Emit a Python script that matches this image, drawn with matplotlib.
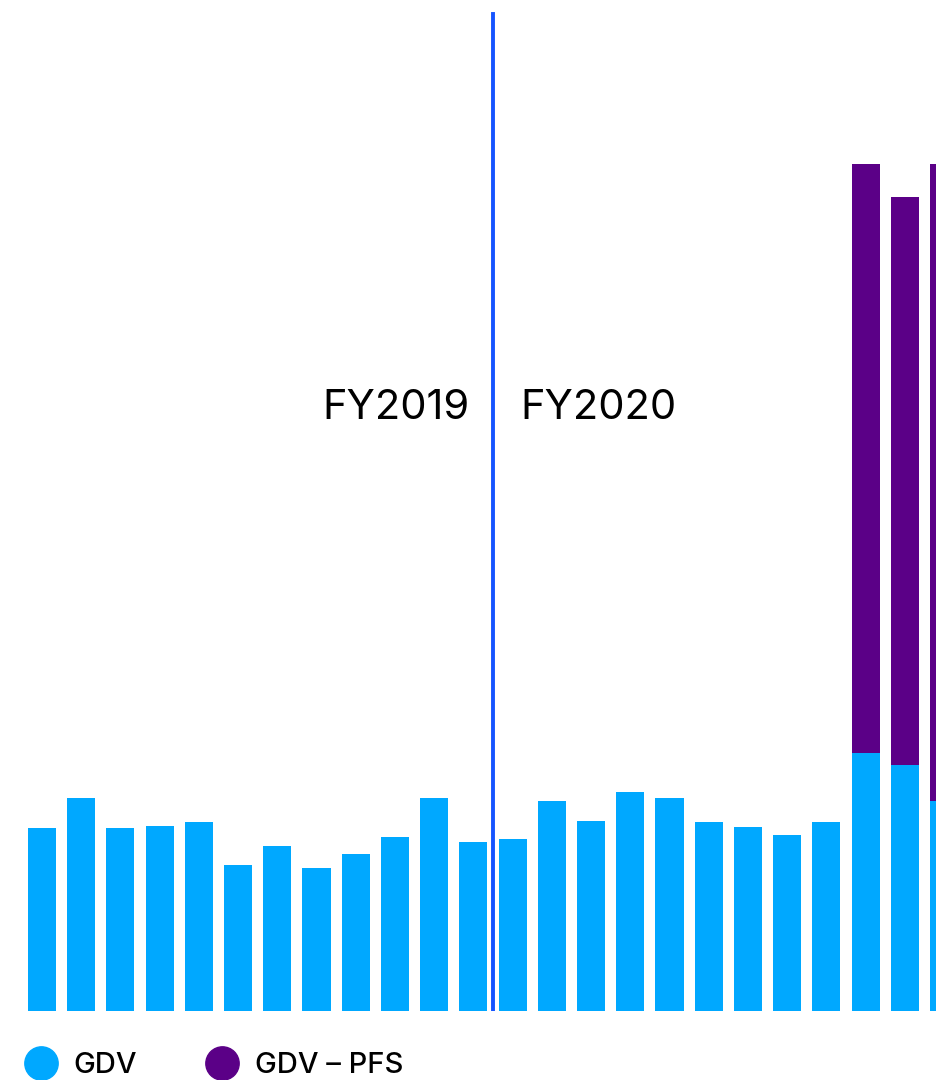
import matplotlib.pyplot as plt
from matplotlib.lines import Line2D
import numpy as np

# monthly values (arbitrary units)
months = list(range(24))
gdv = [183, 213, 183, 185, 189, 146, 165, 143, 157, 174, 213, 169,
       172, 210, 190, 219, 213, 189, 184, 176, 189, 258, 246, 210]
gdv_pfs = [0, 0, 0, 0, 0, 0, 0, 0, 0, 0, 0, 0,
           0, 0, 0, 0, 0, 0, 0, 0, 0, 589, 568, 637]
year_labels = ["FY2019", "FY2020"]
series_labels = ["GDV", "GDV – PFS"]

blue = "#00A8FF"
purple = "#5B0087"
line_blue = "#1654FF"

plt.rcParams['font.family'] = ['Inter', 'DejaVu Sans']

fig = plt.figure(figsize=(9.37, 10.8), dpi=100)
ax = fig.add_axes([0, 69 / 1080, 1, 1011 / 1080])

x = np.array(months)
ax.bar(x, gdv, width=0.715, color=blue, linewidth=0)
ax.bar(x, gdv_pfs, width=0.715, bottom=gdv, color=purple, linewidth=0)

ax.set_xlim(-1.07, 22.82)
ax.set_ylim(0, 1011)
# split between the two fiscal years
ax.axvline(11.5, ymin=0, ymax=(1011 - 14) / 1011, color=line_blue, linewidth=2.8)

ax.text(10.9, 603, year_labels[0], ha='right', va='center', fontsize=30)
ax.text(12.2, 603, year_labels[1], ha='left', va='center', fontsize=30)
ax.axis('off')

handles = [Line2D([], [], marker='o', linestyle='', markersize=24, color=blue),
           Line2D([], [], marker='o', linestyle='', markersize=24, color=purple)]
fig.legend(handles, series_labels, loc='lower left', bbox_to_anchor=(0.028, 0.001),
           ncol=2, frameon=False, handlelength=1.0, handletextpad=0.6,
           columnspacing=2.45, borderpad=0, borderaxespad=0,
           prop={'weight': 'medium', 'size': 21})

fig.savefig("out.png", dpi=100)
